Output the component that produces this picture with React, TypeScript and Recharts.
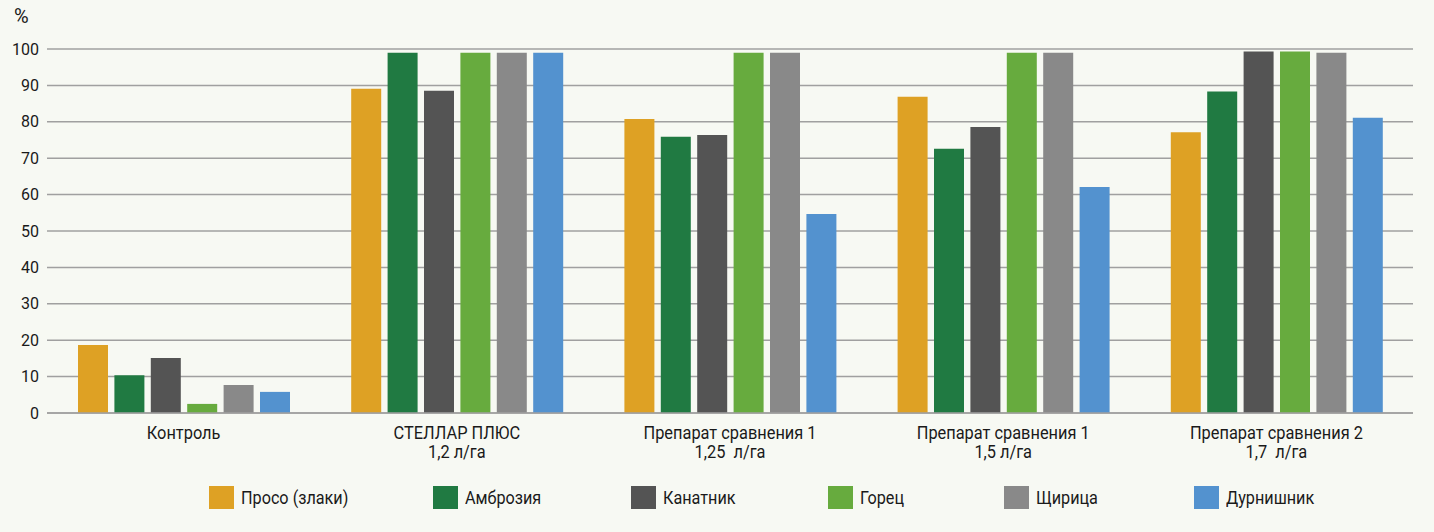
import React from 'react';
import { BarChart, Bar, XAxis, YAxis, CartesianGrid, Legend } from 'recharts';

const categories = [
  'Контроль',
  'СТЕЛЛАР ПЛЮС\n1,2 л/га',
  'Препарат сравнения 1\n1,25  л/га',
  'Препарат сравнения 1\n1,5 л/га',
  'Препарат сравнения 2\n1,7  л/га',
];
const proso = [18.7, 89.1, 80.8, 86.9, 77.1];
const ambrosia = [10.4, 99.0, 75.9, 72.6, 88.3];
const kanatnik = [15.1, 88.5, 76.4, 78.6, 99.3];
const gorec = [2.5, 99.0, 99.0, 99.0, 99.3];
const shchiritsa = [7.7, 99.0, 99.0, 99.0, 99.0];
const durnishnik = [5.8, 99.0, 54.7, 62.1, 81.1];
const yTicks = [0, 10, 20, 30, 40, 50, 60, 70, 80, 90, 100];

const seriesNames = ['Просо (злаки)', 'Амброзия', 'Канатник', 'Горец', 'Щирица', 'Дурнишник'];
const seriesKeys = ['proso', 'ambrosia', 'kanatnik', 'gorec', 'shchiritsa', 'durnishnik'];
const seriesValues = [proso, ambrosia, kanatnik, gorec, shchiritsa, durnishnik];
const colors = ['#dea124', '#207a42', '#545454', '#67ab3e', '#898989', '#5392cf'];
const legendLeft = [209, 433, 631, 828, 1004, 1194];

const data = categories.map((c, i) => {
  const row: any = { name: c };
  seriesKeys.forEach((k, j) => (row[k] = seriesValues[j][i]));
  return row;
});

const FONT = 'Roboto, "Liberation Sans", Arial, sans-serif';

const XTick = (props: any) => {
  const { x, y, payload } = props;
  const lines = String(payload.value).split('\n');
  return (
    <g transform={`translate(${x},${y}) scale(0.91,1)`}>
      <text x={0} y={0} textAnchor="middle" fill="#1a1a1a" fontSize={18} fontFamily={FONT}>
        {lines.map((l, i) => (
          <tspan key={i} x={0} dy={i === 0 ? 18 : 19} style={{ whiteSpace: 'pre' }}>
            {l}
          </tspan>
        ))}
      </text>
    </g>
  );
};

const LegendContent = () => (
  <div style={{ position: 'relative', height: 60, width: 1434 }}>
    {seriesNames.map((n, i) => (
      <div
        key={n}
        style={{
          position: 'absolute',
          left: legendLeft[i],
          top: 14,
          height: 23,
          display: 'flex',
          alignItems: 'center',
          fontFamily: FONT,
          fontSize: 18,
          color: '#1a1a1a',
          whiteSpace: 'nowrap',
        }}
      >
        <span style={{ display: 'inline-block', width: 25, height: 23, background: colors[i], marginRight: 7 }} />
        <span style={{ display: 'inline-block', transform: 'scaleX(0.9)', transformOrigin: 'left center' }}>{n}</span>
      </div>
    ))}
  </div>
);

export default function App() {
  return (
    <div style={{ position: 'absolute', left: 0, top: 0, width: 1434, height: 532, background: '#f7f9f3' }}>
      <BarChart
        width={1434}
        height={532}
        data={data}
        margin={{ top: 49, right: 21, left: 0, bottom: 0 }}
        barSize={30}
        barGap={6.4}
      >
        <CartesianGrid vertical={false} stroke="#a0a0a0" strokeWidth={1.5} />
        <XAxis
          dataKey="name"
          interval={0}
          height={59}
          tickLine={false}
          axisLine={{ stroke: '#a0a0a0', strokeWidth: 1.5 }}
          tick={<XTick />}
        />
        <YAxis
          width={47}
          domain={[0, 100]}
          ticks={yTicks}
          interval={0}
          tickLine={false}
          axisLine={false}
          tick={{ fill: '#1a1a1a', fontSize: 16, fontFamily: FONT }}
          label={(p: any) => {
            const vb = p.viewBox || { x: 0, y: 49 };
            return (
              <text x={vb.x + 14} y={vb.y - 26} fill="#1a1a1a" fontSize={20} fontFamily={FONT}>
                %
              </text>
            );
          }}
        />
        <Legend verticalAlign="bottom" content={<LegendContent />} />
        {seriesKeys.map((k, i) => (
          <Bar key={k} dataKey={k} name={seriesNames[i]} fill={colors[i]} isAnimationActive={false} />
        ))}
      </BarChart>
    </div>
  );
}
